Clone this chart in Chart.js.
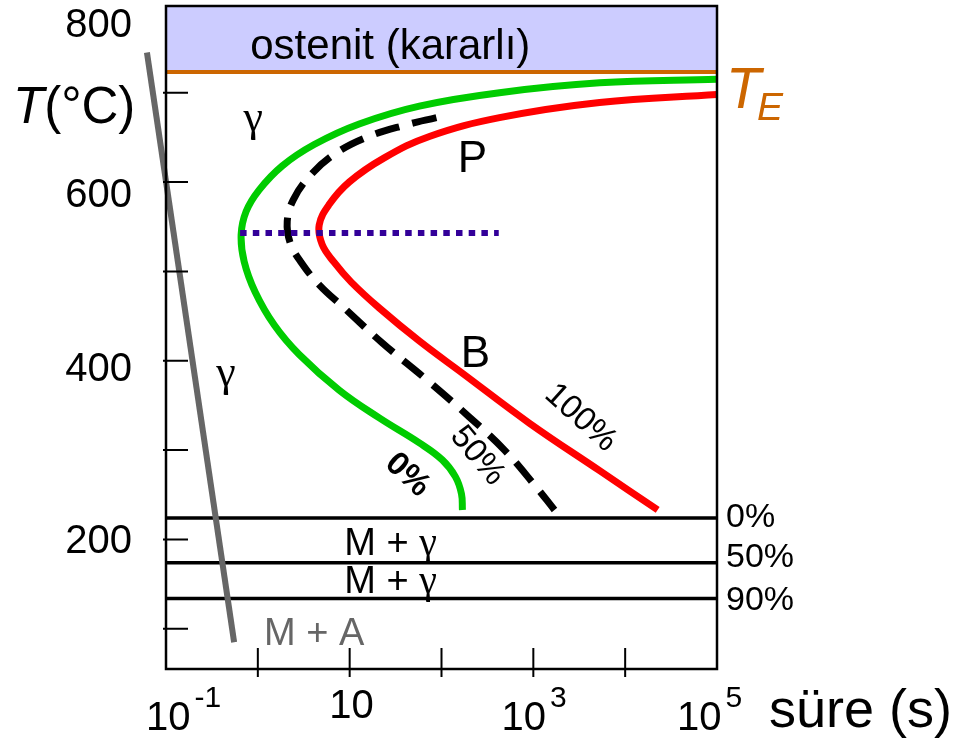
<!DOCTYPE html>
<html>
<head>
<meta charset="utf-8">
<script src="https://cdn.jsdelivr.net/npm/chart.js@4/dist/chart.umd.min.js"></script>
<style>
html,body{margin:0;padding:0;background:#fff;}
</style>
</head>
<body>
<canvas id="c" width="959" height="738"></canvas>
<script>
// TTT (izotermal dönüşüm) diyagramı
const TE = 723; // ötektoid sıcaklık, °C

// 0% dönüşüm eğrisi (yeşil) - süre (s) / sıcaklık (°C)
const curve0Time = [100000, 5270, 428, 57.4, 12.7, 4.11, 1.84, 1.03, 0.745, 0.658, 0.71, 0.935, 1.51, 2.82, 7.7, 21, 57.4, 102, 142, 165, 169];
const curve0Temp = [715, 711, 700, 685, 665, 642, 618, 591, 567, 541, 511, 477, 440, 407, 367, 336, 308, 289, 270, 251, 233];

// 50% dönüşüm eğrisi (siyah kesikli)
const curve50Time = [88, 41.4, 15.2, 6.79, 3.62, 2.43, 2.09, 2.25, 2.97, 4.66, 8.73, 22.6, 68.4, 201, 485, 1030, 1700];
const curve50Temp = [672, 664, 650, 631, 606, 580, 556, 532, 510, 485, 459, 420, 379, 337, 300, 261, 233];

// 100% dönüşüm eğrisi (kırmızı)
const curve100Time = [100000, 5270, 428, 73.8, 23.8, 9.9, 6.0, 4.66, 5.02, 6.79, 10.4, 21, 57.4, 169, 910, 5270, 22600];
const curve100Temp = [698, 689, 672, 651, 627, 600, 575, 552, 530, 510, 488, 459, 422, 386, 330, 277, 233];

// soğuma hattı (gri) ve burun sıcaklığı (mavi noktalı)
const coolTime = [0.062, 0.552];
const coolTemp = [745, 85];
const noseTime = [0.641, 420];
const noseTemp = [543, 543];

// martenzit çizgileri
const martTemp = [224, 174, 134];
const martLabels = ['0%', '50%', '90%'];

// eksenler
const xMin = 0.1, xMax = 1e5;
const yMin = 55, yMax = 797;
const xTicks = [1, 10, 100, 1000, 10000];
const yTicks = [100, 200, 300, 400, 500, 600, 700];
const xTickLabels = [['10', '-1', 0.1], ['10', '', 10], ['10', '3', 1000], ['10', '5', 100000]];
const yTickLabels = [['800', 800], ['600', 600], ['400', 400], ['200', 200]];

// yazılar (veri koordinatlarında)
const notes = [
  { text: 'P', t: 217, T: 611, font: '44px "Liberation Sans", Arial', color: '#000', align: 'center' },
  { text: 'B', t: 234, T: 393, font: '44px "Liberation Sans", Arial', color: '#000', align: 'center' },
  { text: 'γ', t: 0.89, T: 657, font: '44px "Liberation Serif", "Times New Roman", serif', color: '#000', align: 'center' },
  { text: 'γ', t: 0.451, T: 372, font: '44px "Liberation Serif", "Times New Roman", serif', color: '#000', align: 'center' },
  { text: 'ostenit (kararlı)', t: 27.7, T: 738, font: '42px "Liberation Sans", Arial', color: '#000', align: 'center' },
  { text: 'M + A', t: 1.17, T: 82, font: '38px "Liberation Sans", Arial', color: '#666', align: 'left' }
];
const mgNotes = [{ t: 8.73, T: 182.6 }, { t: 8.73, T: 140 }];
const rotNotes = [
  { text: '100%', t: 3270, T: 336, rot: 42, font: '33px "Liberation Sans", Arial' },
  { text: '50%', t: 246, T: 293.5, rot: 50, font: '33px "Liberation Sans", Arial' },
  { text: '0%', t: 42.5, T: 272, rot: 43, font: 'bold 33px "Liberation Sans", Arial' }
];

const zip = (a, b) => a.map((v, i) => ({ x: v, y: b[i] }));
const full = y => [{ x: xMin, y }, { x: xMax, y }];

const datasets = [
  { data: zip(noseTime, noseTemp), borderColor: '#330099', borderWidth: 6, borderDash: [6.5, 6.2], tension: 0, order: 1 },
  { data: zip(curve0Time, curve0Temp), borderColor: '#00cc00', borderWidth: 7, tension: 0.4, order: 3 },
  { data: zip(curve50Time, curve50Temp), borderColor: '#000', borderWidth: 7, borderDash: [25, 13], tension: 0.4, order: 3 },
  { data: zip(curve100Time, curve100Temp), borderColor: '#ff0000', borderWidth: 7, tension: 0.4, order: 3 },
  { data: zip(coolTime, coolTemp), borderColor: '#666', borderWidth: 6, tension: 0, clip: false, order: 2 },
  ...martTemp.map(v => ({ data: full(v), borderColor: '#000', borderWidth: 3.5, tension: 0, order: 5 })),
  { data: full(TE), borderColor: '#cc6600', borderWidth: 4, tension: 0, order: 9 },
  { data: full(yMax), borderWidth: 0, borderColor: 'rgba(0,0,0,0)', backgroundColor: '#ccccff', fill: { value: TE }, order: 10 }
];

const SANS = '"Liberation Sans", Arial, sans-serif';

const tttPlugin = {
  id: 'ttt',
  afterDatasetsDraw(chart) {
    const c = chart.ctx, a = chart.chartArea;
    const xs = chart.scales.x, ys = chart.scales.y;
    c.save();
    // çerçeve
    c.strokeStyle = '#000'; c.lineWidth = 2.5;
    c.strokeRect(a.left, a.top, a.right - a.left, a.bottom - a.top);
    // tikler
    c.lineWidth = 2;
    c.beginPath();
    yTicks.forEach(v => { const p = ys.getPixelForValue(v); c.moveTo(a.left - 3, p); c.lineTo(a.left + 22, p); });
    xTicks.forEach(v => { const p = xs.getPixelForValue(v); c.moveTo(p, a.bottom + 8); c.lineTo(p, a.bottom - 21); });
    c.stroke();

    c.fillStyle = '#000';
    c.textBaseline = 'alphabetic';
    // y etiketleri
    const yNudge = [34, 25, 20, 13.5];
    c.font = '40px ' + SANS; c.textAlign = 'right';
    yTickLabels.forEach(([s, v], i) => c.fillText(s, a.left - 34, ys.getPixelForValue(v) + yNudge[i]));
    // x etiketleri
    const xNudge = [-20, -20.4, -31.8, -40];
    const xBase = [730, 718, 730, 730];
    c.textAlign = 'left';
    xTickLabels.forEach(([b, e, v], i) => {
      const left = xs.getPixelForValue(v) + xNudge[i];
      c.font = '40px ' + SANS;
      c.fillText(b, left, xBase[i]);
      const w = c.measureText(b).width;
      if (e) { c.font = '30px ' + SANS; c.fillText(e, left + w + 4, 707); }
    });
    // eksen başlıkları
    c.font = '54px ' + SANS; c.fillText('süre (s)', 769, 727);
    c.font = 'italic 51px ' + SANS; c.fillText('T', 13, 123);
    let tw = c.measureText('T').width;
    c.font = '51px ' + SANS; c.fillText('(°C)', 13 + tw, 123);
    // T_E
    c.fillStyle = '#cc6600';
    c.font = 'italic 57px ' + SANS; c.fillText('T', 726, 108);
    c.font = 'italic 39px ' + SANS; c.fillText('E', 757, 120);
    // martenzit yüzdeleri
    c.fillStyle = '#000'; c.font = '34px ' + SANS; c.textBaseline = 'middle';
    const mNudge = [0, -5, 2];
    martTemp.forEach((v, i) => c.fillText(martLabels[i], a.right + 9, ys.getPixelForValue(v) + mNudge[i]));
    c.textBaseline = 'alphabetic';
    // bölge yazıları
    notes.forEach(n => {
      c.font = n.font; c.fillStyle = n.color; c.textAlign = n.align;
      c.fillText(n.text, xs.getPixelForValue(n.t), ys.getPixelForValue(n.T));
    });
    c.textAlign = 'left'; c.fillStyle = '#000';
    mgNotes.forEach(n => {
      const x = xs.getPixelForValue(n.t), y = ys.getPixelForValue(n.T);
      c.font = '38px ' + SANS; c.fillText('M + ', x, y);
      const w = c.measureText('M + ').width;
      c.font = '40px "Liberation Serif", serif'; c.fillText('γ', x + w, y);
    });
    c.textAlign = 'center'; c.textBaseline = 'middle';
    rotNotes.forEach(n => {
      c.save();
      c.translate(xs.getPixelForValue(n.t), ys.getPixelForValue(n.T));
      c.rotate(n.rot * Math.PI / 180);
      c.font = n.font; c.fillText(n.text, 0, 0);
      c.restore();
    });
    c.restore();
  }
};

new Chart(document.getElementById('c'), {
  type: 'line',
  data: { datasets },
  options: {
    responsive: false,
    animation: false,
    devicePixelRatio: 1,
    layout: { padding: { left: 166, right: 242, top: 6, bottom: 69 } },
    elements: { point: { radius: 0 }, line: { borderCapStyle: 'butt' } },
    scales: {
      x: { type: 'logarithmic', min: xMin, max: xMax, display: false },
      y: { type: 'linear', min: yMin, max: yMax, display: false }
    },
    plugins: { legend: { display: false }, tooltip: { enabled: false } }
  },
  plugins: [tttPlugin]
});
</script>
</body>
</html>
